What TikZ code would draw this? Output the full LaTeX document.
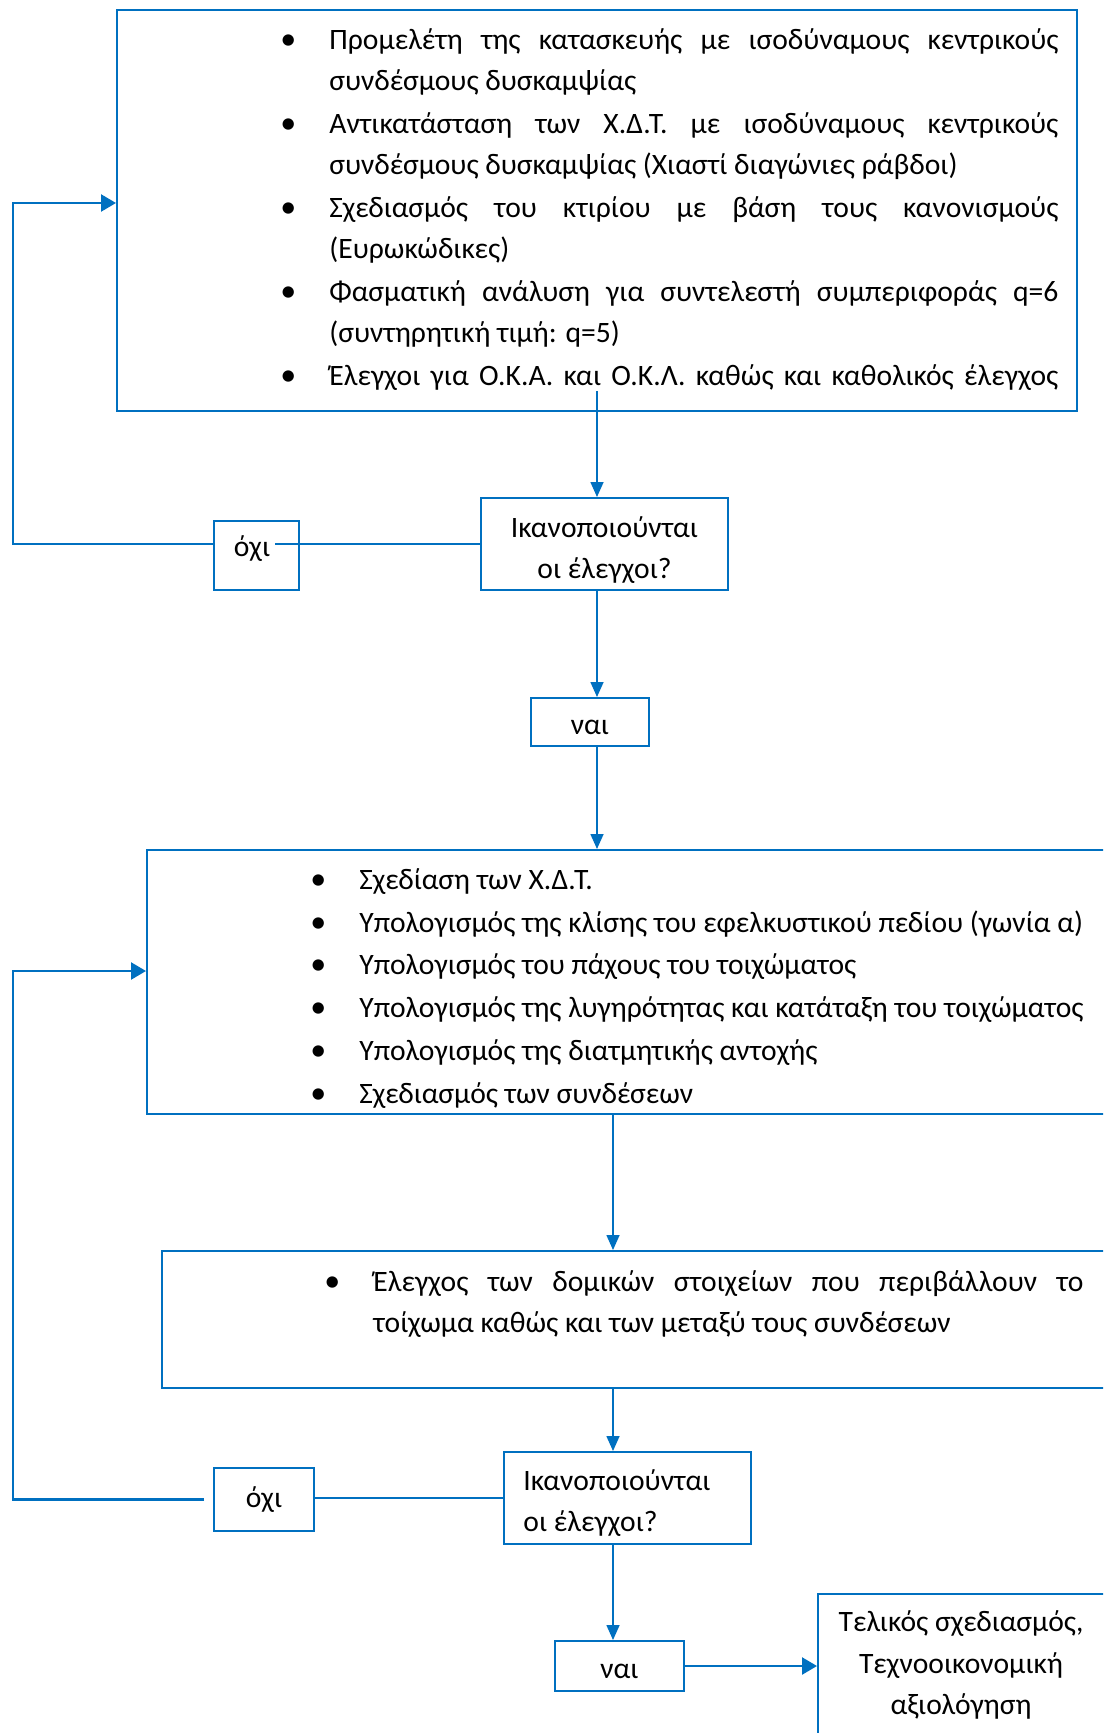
\documentclass[tikz,border=0pt]{standalone}
\usepackage{fontspec}
\setmainfont{Carlito}
\usetikzlibrary{arrows.meta}
\definecolor{wordblue}{HTML}{0070C0}
\newcommand{\bul}{\llap{\makebox[0pt][c]{\fontsize{16}{16}\selectfont\textbullet}\hspace{20.5pt}}}

\begin{document}
\begin{tikzpicture}[x=0.5pt,y=-0.5pt,
    box/.style={draw=wordblue,line width=1pt,anchor=north west,inner sep=0pt},
    wire/.style={draw=wordblue,line width=0.8pt},
    arr/.style={wire,-{Triangle[length=7.5pt,width=6.5pt]}},
    backarr/.style={draw=wordblue,line width=1.2pt,-{Triangle[length=7.5pt,width=8.5pt]}},
    itemlist/.style={anchor=north west,inner sep=0pt,align=justify,font=\fontsize{14.8}{20.6}\selectfont},
    txt/.style={inner sep=0pt,align=center,font=\fontsize{14.8}{20.6}\selectfont}]
      \useasboundingbox (0,0) rectangle (1103,1733);
      \clip (0,0) rectangle (1103,1733);

      \node[box,minimum width=480pt,minimum height=200.5pt] (plan) at (116,9) {};
      \node[itemlist,text width=364.5pt] (planlist) at (329,20) {\parskip=0.8pt
        \strut\bul Προμελέτη της κατασκευής με ισοδύναμους κεντρικούς\linebreak συνδέσμους δυσκαμψίας\par
        \strut\bul Αντικατάσταση των Χ.Δ.Τ. με ισοδύναμους κεντρικούς\linebreak συνδέσμους δυσκαμψίας (Χιαστί διαγώνιες ράβδοι)\par
        \strut\bul Σχεδιασμός του κτιρίου με βάση τους κανονισμούς\linebreak (Ευρωκώδικες)\par
        \strut\bul Φασματική ανάλυση για συντελεστή συμπεριφοράς q=6\linebreak (συντηρητική τιμή: q=5)\par
        \strut\bul\makebox[\hsize][s]{Έλεγχοι για Ο.Κ.Α. και Ο.Κ.Λ. καθώς και καθολικός έλεγχος}};

      \node[box,minimum width=123.5pt,minimum height=46pt] (ok1) at (480,497) {};
      \node[txt] (ok1txt) at ([yshift=-3pt]ok1.center) {Ικανοποιούνται\\οι έλεγχοι?};
      \node[box,minimum width=42.5pt,minimum height=34.5pt] (no1) at (213,520) {};
      \node[txt,inner sep=2pt] (no1txt) at (252,549) {όχι};
      \node[box,minimum width=59pt,minimum height=24pt] (nai1) at (530,697) {};
      \node[txt] (nai1txt) at ([yshift=-2.5pt]nai1.center) {ναι};

      \node[box,minimum width=497pt,minimum height=132pt] (design) at (146,849) {};
      \node[itemlist,text width=375pt] (designlist) at (359,860) {\parskip=0.8pt
        \strut\bul Σχεδίαση των Χ.Δ.Τ.\par
        \strut\bul Υπολογισμός της κλίσης του εφελκυστικού πεδίου (γωνία α)\par
        \strut\bul Υπολογισμός του πάχους του τοιχώματος\par
        \strut\bul Υπολογισμός της λυγηρότητας και κατάταξη του τοιχώματος\par
        \strut\bul Υπολογισμός της διατμητικής αντοχής\par
        \strut\bul Σχεδιασμός των συνδέσεων};

      \node[box,minimum width=490pt,minimum height=68.5pt] (check) at (161,1250) {};
      \node[itemlist,text width=355pt] (checklist) at (373,1262) {
        \strut\bul Έλεγχος των δομικών στοιχείων που περιβάλλουν το\linebreak τοίχωμα καθώς και των μεταξύ τους συνδέσεων};

      \node[box,minimum width=123.5pt,minimum height=46pt] (ok2) at (503,1451) {};
      \node[txt,align=left,anchor=west] (ok2txt) at ([xshift=10pt,yshift=-2.5pt]ok2.west) {Ικανοποιούνται\\οι έλεγχοι?};
      \node[box,txt,minimum width=50pt,minimum height=31.5pt] (no2) at (213,1467) {όχι};
      \node[box,minimum width=64.5pt,minimum height=25pt] (nai2) at (554,1640) {};
      \node[txt] (nai2txt) at ([yshift=-2.5pt]nai2.center) {ναι};

      \node[box,minimum width=160pt,minimum height=90pt] (final) at (817,1593) {};
      \node[txt] (finaltxt) at (961,1665) {Τελικός σχεδιασμός,\\Τεχνοοικονομική\\αξιολόγηση};

      \coordinate (s1) at (597,0);
      \coordinate (s2) at (613,0);
      \coordinate (back1) at (13,203);
      \coordinate (back2) at (13,971);

      \draw[arr,shorten <=-10.5pt] (plan.south -| s1) -- (ok1.north -| s1);
      \draw[arr] (ok1.south -| s1) -- (nai1.north -| s1);
      \draw[arr] (nai1.south -| s1) -- (design.north -| s1);
      \draw[arr] (design.south -| s2) -- (check.north -| s2);
      \draw[arr] (check.south -| s2) -- (ok2.north -| s2);
      \draw[arr] (ok2.south -| s2) -- (nai2.north -| s2);
      \draw[backarr] (nai2.east) -- (final.west |- nai2.east);

      \draw[wire] (ok1.west) -- (no1txt.east |- ok1.west);
      \draw[backarr] (no1.west |- ok1.west) -| (back1) -- (plan.west |- back1);
      \draw[wire] (ok2.west) -- (no2.east |- ok2.west);
      \draw[backarr] ([xshift=-4.5pt]no2.west) -| (back2) -- (design.west |- back2);

    \end{tikzpicture}
\end{document}
